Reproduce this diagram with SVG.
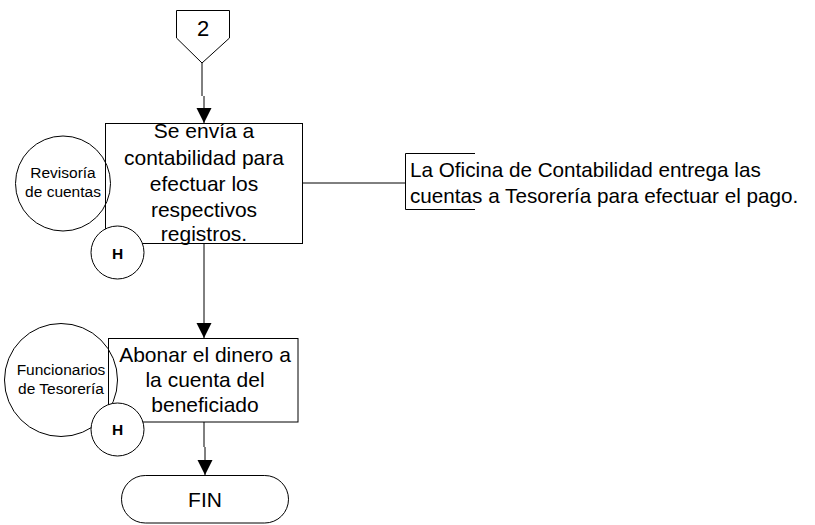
<svg xmlns="http://www.w3.org/2000/svg" width="815" height="525" viewBox="0 0 815 525">
<style>
.shape{fill:#fff;stroke:#000;stroke-width:1}
.ring{fill:none;stroke:#000;stroke-width:1}
.line{fill:none;stroke:#000;stroke-width:1}
.t{font-family:"Liberation Sans",Arial,sans-serif;fill:#000;text-anchor:middle}
.big{font-size:21px}
.small{font-size:15.5px}
.note{font-size:20.7px;text-anchor:start}
.h{font-size:15.5px;font-weight:bold}
</style>
<defs>
<marker id="arr" markerWidth="15" markerHeight="21" refX="15" refY="10.5" orient="auto" markerUnits="userSpaceOnUse">
<path d="M0,3 L15,10.5 L0,18 Z" fill="#000"/>
</marker>
</defs>
<rect width="815" height="525" fill="#fff"/>
<g id="connectors">
<path class="line" d="M202,63 L202,96" stroke="#555"/>
<path class="line" d="M204,96 L204,123" marker-end="url(#arr)"/>
<path class="line" d="M302,183 L405,183"/>
<path class="line" d="M204,244 L204,338" marker-end="url(#arr)"/>
<path class="line" d="M204,422 L204,447"/>
<path class="line" d="M205,447 L205,475" marker-end="url(#arr)"/>
</g>
<g id="offpage2">
<path class="shape" d="M176.5,10.5 L229.5,10.5 L229.5,38 L202,63 L176.5,38 Z"/>
<text class="t" style="font-size:22px" x="203" y="36">2</text>
</g>
<g id="box1">
<rect class="shape" x="105.5" y="123.5" width="197" height="120"/>
<text class="t big" x="204" y="138">Se envía a</text>
<text class="t big" x="204" y="164.5">contabilidad para</text>
<text class="t big" x="204" y="191">efectuar los</text>
<text class="t big" x="204" y="217">respectivos</text>
<text class="t big" x="204" y="241">registros.</text>
</g>
<g id="revisoria">
<circle class="ring" cx="63" cy="183.5" r="47.5"/>
<text class="t small" x="63" y="178">Revisoría</text>
<text class="t small" x="63" y="197">de cuentas</text>
</g>
<g id="h1">
<circle class="shape" cx="117.5" cy="252.5" r="26.5"/>
<text class="t h" x="117.5" y="258.5">H</text>
</g>
<g id="note">
<path class="line" d="M475,153.5 L405.5,153.5 L405.5,209.5 L475,209.5"/>
<text class="t note" x="410" y="177">La Oficina de Contabilidad entrega las</text>
<text class="t note" x="410" y="203">cuentas a Tesorería para efectuar el pago.</text>
</g>
<g id="box2">
<rect class="shape" x="108.5" y="338.5" width="189.5" height="83.5" stroke="#333"/>
<text class="t big" x="205" y="362">Abonar el dinero a</text>
<text class="t big" x="205" y="387">la cuenta del</text>
<text class="t big" x="205" y="412">beneficiado</text>
</g>
<g id="funcionarios">
<circle class="ring" cx="61" cy="380" r="56.5"/>
<text class="t small" x="61" y="375">Funcionarios</text>
<text class="t small" x="61" y="394">de Tesorería</text>
</g>
<g id="h2">
<circle class="shape" cx="117.5" cy="429.5" r="26.5"/>
<text class="t h" x="117.5" y="435">H</text>
</g>
<g id="fin">
<rect class="shape" x="121.5" y="475.5" width="167" height="47.5" rx="23.75" ry="23.75"/>
<text class="t big" x="205" y="507">FIN</text>
</g>
</svg>
